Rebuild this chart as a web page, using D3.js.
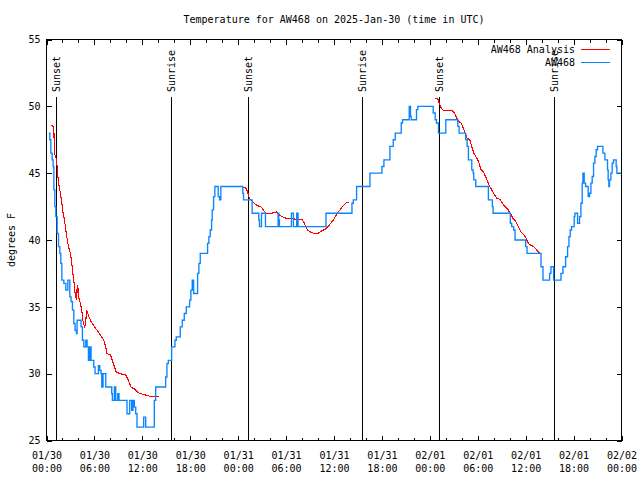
<!DOCTYPE html>
<html><head><meta charset="utf-8">
<script src="https://cdn.jsdelivr.net/npm/d3@7"></script>
<style>
body{margin:0;background:#fff}
text{font-family:"DejaVu Sans Mono",monospace;font-size:10px;fill:#000}
</style>
</head><body>
<svg id="c" width="640" height="480"></svg>
<script>
// ---- data (hours since 2025-01-30 00:00 UTC, degrees F) ----
const titleText = "Temperature for AW468 on 2025-Jan-30 (time in UTC)";
const yLabel = "degrees F";
const yTicks = [25, 30, 35, 40, 45, 50, 55];
const majorTickHours = [0, 6, 12, 18, 24, 30, 36, 42, 48, 54, 60, 66, 72];
const minorTickHours = [2, 4, 8, 10, 14, 16, 20, 22, 26, 28, 32, 34, 38, 40, 44, 46, 50, 52, 56, 58, 62, 64, 68, 70];
const eventHours = [1.17, 15.62, 25.17, 39.54, 49.17, 63.54];
const eventLabels = ["Sunset", "Sunrise", "Sunset", "Sunrise", "Sunset", "Sunrise"];
const seriesNames = ["AW468 Analysis", "AW468"];

const observed = [
[0.29,48.0],[0.42,47.5],[0.54,46.5],[0.71,46.0],[0.83,45.5],[0.92,43.75],[1.04,42.5],[1.17,41.75],
[1.33,40.5],[1.5,39.5],[1.67,39.0],[1.79,38.25],[1.92,37.0],[2.17,36.75],[2.42,36.25],[2.67,37.0],
[2.92,35.75],[3.08,35.4],[3.25,34.75],[3.42,33.75],[3.58,33.25],[3.75,33.0],[3.83,34.0],[4.33,33.5],
[4.5,32.5],[4.67,32.0],[4.92,32.5],[5.08,32.0],[5.25,31.0],[5.42,32.0],[5.58,31.0],[5.92,30.5],
[6.08,30.0],[6.5,30.6],[6.67,30.25],[6.83,30.0],[6.92,29.0],[7.08,30.0],[7.42,29.0],[8.17,28.5],
[8.25,28.0],[8.5,29.0],[8.67,28.0],[8.92,28.5],[9.08,28.0],[10.08,27.0],[10.42,28.0],[10.67,27.25],
[10.83,28.0],[11.0,27.5],[11.17,27.0],[11.33,26.0],[12.17,26.75],[12.42,26.0],[13.5,28.0],[13.67,29.0],
[14.92,29.75],[15.08,30.75],[15.25,31.0],[15.67,32.0],[16.08,32.5],[16.25,32.75],[16.75,33.5],[17.0,34.0],
[17.25,34.5],[17.5,35.0],[17.92,35.5],[18.08,36.25],[18.25,37.0],[18.42,36.0],[18.92,37.5],[19.08,38.25],
[19.25,39.0],[20.17,39.75],[20.33,40.25],[20.5,40.75],[20.67,41.5],[20.75,42.25],[20.92,43.25],[21.08,44.0],
[21.5,43.25],[21.67,43.0],[21.83,44.0],[24.58,43.5],[24.67,43.0],[25.75,42.0],[26.58,41.5],[26.67,41.0],
[26.92,42.0],[27.42,41.0],[29.0,42.0],[29.08,41.5],[29.17,41.0],[30.67,42.0],[30.92,41.0],[31.33,42.0],
[31.5,41.0],[35.0,42.0],[38.25,42.75],[38.42,43.0],[38.83,44.0],[40.5,45.0],[42.0,45.5],[42.25,46.0],
[43.0,47.0],[43.42,47.5],[43.67,48.0],[44.42,48.75],[44.58,49.0],[45.42,50.0],[45.58,49.25],[45.67,49.0],
[46.33,49.75],[46.5,50.0],[48.42,49.5],[48.67,49.0],[48.83,48.75],[49.08,48.0],[50.0,49.0],[51.5,48.5],
[51.67,48.0],[52.5,47.5],[52.67,47.0],[52.83,46.0],[53.25,45.25],[53.42,45.0],[53.5,44.5],[53.75,44.0],
[55.33,43.0],[55.83,42.5],[55.92,42.0],[58.08,41.25],[58.25,41.0],[58.5,40.75],[58.67,40.0],[60.0,39.5],
[60.17,39.0],[61.92,38.0],[62.17,37.0],[63.0,37.5],[63.17,38.0],[63.5,37.0],[64.42,37.5],[64.67,38.0],
[65.0,38.75],[65.25,39.5],[65.42,40.25],[65.58,40.75],[65.75,41.0],[66.08,41.75],[66.17,42.0],[66.5,41.25],
[66.75,41.75],[66.92,42.75],[67.08,44.25],[67.17,45.0],[67.33,44.25],[67.5,44.0],[67.83,43.25],[68.0,43.5],
[68.17,44.25],[68.33,44.75],[68.5,45.75],[68.67,46.25],[68.83,46.75],[69.0,47.0],[69.67,46.5],[69.92,46.0],
[70.25,45.25],[70.33,44.5],[70.42,44.0],[70.5,44.5],[70.67,45.0],[70.83,45.75],[71.0,46.0],[71.33,45.5],
[71.42,45.0],[72.0,45.0]
];

const analysisNight1 = [
[0.6,48.55],[0.92,48.5],[0.95,47.5],[1.0,46.5],[1.25,46.0],[1.33,45.5],[1.42,44.75],[1.58,44.0],
[1.75,43.5],[1.92,42.75],[2.08,42.0],[2.25,41.5],[2.42,40.75],[2.58,40.1],[2.75,39.5],[3.0,39.0],
[3.17,38.25],[3.25,37.75],[3.42,37.0],[3.58,36.0],[3.75,35.5],[3.85,36.6],[3.92,36.0],[3.96,36.4],
[4.0,35.8],[4.25,35.25],[4.42,34.75],[4.58,33.9],[4.75,33.5],[4.9,33.6],[5.0,34.75],[5.33,34.25],
[5.58,33.9],[5.92,33.6],[6.33,33.25],[6.75,32.9],[7.17,32.5],[7.42,32.0],[7.58,31.5],[8.0,31.4],
[8.25,31.0],[8.5,30.5],[8.75,30.1],[9.25,30.0],[9.92,29.9],[10.25,29.5],[10.58,29.0],[11.0,28.85],
[11.42,28.6],[11.83,28.5],[12.42,28.4],[13.0,28.3],[14.08,28.3]
];
const analysisNight2 = [
[24.58,43.95],[24.92,43.95],[25.17,43.6],[25.33,43.25],[25.5,43.05],[25.75,42.9],[26.0,42.75],[26.33,42.6],
[26.75,42.5],[27.0,42.4],[27.33,42.1],[27.58,41.95],[28.0,41.95],[28.42,42.05],[28.83,42.1],[29.08,41.9],
[29.5,41.75],[29.83,41.65],[30.58,41.6],[31.33,41.55],[32.0,41.55],[32.25,41.3],[32.5,40.95],[32.75,40.7],
[33.08,40.6],[33.42,40.5],[33.83,40.45],[34.17,40.55],[34.5,40.7],[34.92,40.8],[35.25,41.0],[35.58,41.25],
[35.92,41.5],[36.17,41.75],[36.5,42.1],[36.75,42.25],[37.0,42.45],[37.25,42.6],[37.58,42.8],[37.83,42.8]
];
const analysisNight3 = [
[48.67,50.6],[49.0,50.55],[49.17,50.25],[49.42,49.9],[49.67,49.7],[50.92,49.65],[51.17,49.4],[51.42,49.05],
[51.67,48.85],[51.92,48.75],[52.17,48.4],[52.42,48.0],[52.67,47.6],[53.0,47.5],[53.25,47.0],[53.5,46.5],
[53.75,46.25],[54.08,45.9],[54.42,45.25],[54.75,45.05],[55.08,44.6],[55.42,44.1],[55.75,43.75],[56.08,43.4],
[56.42,43.1],[56.75,43.05],[57.08,42.75],[57.42,42.5],[57.75,42.3],[58.08,42.0],[58.42,41.6],[58.75,41.4],
[59.08,41.0],[59.42,40.6],[59.75,40.4],[60.08,40.1],[60.33,39.75],[60.67,39.6],[61.0,39.5],[61.33,39.3],
[61.58,39.1],[61.83,39.05]
];

// ---- chart ----
const t0 = Date.UTC(2025, 0, 30, 0, 0);
const toDate = h => new Date(t0 + h * 3600000);
const svg = d3.select("#c");
const L = 46.5, R = 621.5, T = 39.5, B = 440.5;
const x = d3.scaleUtc().domain([toDate(0), toDate(72)]).range([L, R]);
const y = d3.scaleLinear().domain([25, 55]).range([B, T]);

svg.append("rect").attr("width", 640).attr("height", 480).attr("fill", "#fff");

// axes
const fmtDay = d3.utcFormat("%m/%d"), fmtTime = d3.utcFormat("%H:%M");
const gx = svg.append("g").attr("transform", `translate(0,${B})`)
  .call(d3.axisBottom(x).tickValues(majorTickHours.map(toDate)).tickSizeInner(-5).tickSizeOuter(0).tickPadding(11).tickFormat(""));
gx.selectAll(".tick text").each(function(d) {
  const t = d3.select(this);
  t.append("tspan").attr("x", 0).text(fmtDay(d));
  t.append("tspan").attr("x", 0).attr("dy", 13).text(fmtTime(d));
});
svg.append("g").attr("transform", `translate(0,${B})`)
  .call(d3.axisBottom(x).tickValues(minorTickHours.map(toDate)).tickSizeInner(-3).tickSizeOuter(0).tickFormat(""));
svg.append("g").attr("transform", `translate(0,${T})`)
  .call(d3.axisTop(x).tickValues(majorTickHours.map(toDate)).tickSizeInner(-5).tickSizeOuter(0).tickFormat(""));
svg.append("g").attr("transform", `translate(0,${T})`)
  .call(d3.axisTop(x).tickValues(minorTickHours.map(toDate)).tickSizeInner(-3).tickSizeOuter(0).tickFormat(""));
svg.append("g").attr("transform", `translate(${L},0)`)
  .call(d3.axisLeft(y).tickValues(yTicks).tickSizeInner(-5).tickSizeOuter(0).tickPadding(6));
svg.append("g").attr("transform", `translate(${R},0)`)
  .call(d3.axisRight(y).tickValues(yTicks).tickSizeInner(-5).tickSizeOuter(0).tickFormat(""));
svg.selectAll(".domain").remove();
svg.selectAll(".tick line").attr("stroke", "#000").attr("shape-rendering", "crispEdges");
svg.selectAll(".tick text").attr("font-family", "DejaVu Sans Mono").attr("font-size", 10).attr("fill", "#000");

// sunrise / sunset
eventHours.forEach((h, i) => {
  const xp = Math.round(x(toDate(h))) + 0.5;
  svg.append("line").attr("x1", xp).attr("x2", xp).attr("y1", 97).attr("y2", B)
    .attr("stroke", "#000").attr("stroke-width", 1).attr("shape-rendering", "crispEdges");
  svg.append("text").attr("transform", `translate(${xp},92) rotate(-90)`)
    .attr("dy", "0.35em").attr("text-anchor", "start").text(eventLabels[i]);
});

// series
const lineA = d3.line().x(d => x(toDate(d[0]))).y(d => y(d[1]));
[analysisNight1, analysisNight2, analysisNight3].forEach(seg => {
  svg.append("path").datum(seg).attr("d", lineA).attr("fill", "none")
    .attr("stroke", "#ff0000").attr("stroke-width", 1.1).attr("shape-rendering", "crispEdges");
});
const lineO = d3.line().x(d => x(toDate(d[0]))).y(d => y(d[1])).curve(d3.curveStepAfter);
svg.append("path").datum(observed).attr("d", lineO).attr("fill", "none")
  .attr("stroke", "#0a84ff").attr("stroke-width", 1.35);

// border
svg.append("rect").attr("x", L).attr("y", T).attr("width", R - L).attr("height", B - T)
  .attr("fill", "none").attr("stroke", "#000").attr("stroke-width", 1).attr("shape-rendering", "crispEdges");

// legend
const legColors = ["#ff0000", "#0a84ff"];
seriesNames.forEach((n, i) => {
  const yy = 49.5 + i * 13;
  svg.append("text").attr("x", 575).attr("y", yy + 3.5).attr("text-anchor", "end").text(n);
  svg.append("line").attr("x1", 581).attr("x2", 610).attr("y1", yy).attr("y2", yy)
    .attr("stroke", legColors[i]).attr("stroke-width", 1).attr("shape-rendering", "crispEdges");
});

// title and y label
svg.append("text").attr("x", (L + R) / 2).attr("y", 23).attr("text-anchor", "middle").text(titleText);
svg.append("text").attr("transform", "translate(11,240) rotate(-90)").attr("dy", "0.35em")
  .attr("text-anchor", "middle").text(yLabel);
</script>
</body></html>
